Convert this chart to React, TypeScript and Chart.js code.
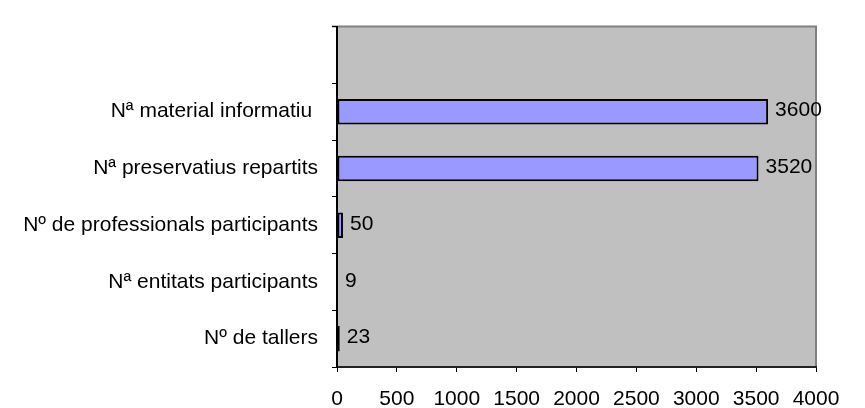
import React, { useEffect, useRef } from "react";
import { Chart, registerables } from "chart.js";

Chart.register(...registerables);

const categories = [
  "",
  "Nª material informatiu ",
  "Nª preservatius repartits",
  "Nº de professionals participants",
  "Nª entitats participants",
  "Nº de tallers",
];
const values: (number | null)[] = [null, 3600, 3520, 50, 9, 23];
const xTicks = [0, 500, 1000, 1500, 2000, 2500, 3000, 3500, 4000];

const FONT = "'Liberation Sans', Arial, sans-serif";
const FS = 21;

const plotBg = {
  id: "plotBg",
  beforeDraw(chart: any) {
    const { ctx, chartArea: a } = chart;
    ctx.save();
    ctx.fillStyle = "#c0c0c0";
    ctx.fillRect(a.left, a.top, a.right - a.left, a.bottom - a.top);
    ctx.strokeStyle = "#808080";
    ctx.lineWidth = 2;
    ctx.beginPath();
    ctx.moveTo(a.left - 5, a.top);
    ctx.lineTo(a.right, a.top);
    ctx.lineTo(a.right, a.bottom);
    ctx.stroke();
    ctx.restore();
  },
};

const valueLabels = {
  id: "valueLabels",
  afterDatasetsDraw(chart: any) {
    const { ctx } = chart;
    const meta = chart.getDatasetMeta(0);
    ctx.save();
    ctx.font = `${FS}px ${FONT}`;
    ctx.fillStyle = "#000";
    ctx.textAlign = "left";
    ctx.textBaseline = "middle";
    meta.data.forEach((bar: any, i: number) => {
      const v = values[i];
      if (v === null || v === undefined) return;
      ctx.fillText(String(v), bar.x + 7, bar.y - 1);
    });
    ctx.restore();
  },
};

export default function App() {
  const ref = useRef<HTMLCanvasElement>(null);
  useEffect(() => {
    if (!ref.current) return;
    const chart = new Chart(ref.current, {
      type: "bar",
      data: {
        labels: categories,
        datasets: [
          {
            data: values as any,
            backgroundColor: "#9999ff",
            borderColor: "#000000",
            borderWidth: 2,
            borderSkipped: false,
            categoryPercentage: 1,
            barPercentage: 0.45,
          },
        ],
      },
      options: {
        indexAxis: "y",
        animation: false,
        responsive: false,
        maintainAspectRatio: false,
        layout: { padding: { left: 0, right: 49, top: 13, bottom: 0 } },
        plugins: { legend: { display: false }, tooltip: { enabled: false } },
        scales: {
          x: {
            type: "linear",
            min: 0,
            max: 4000,
            afterBuildTicks(axis: any) {
              axis.ticks = xTicks.map((v) => ({ value: v }));
            },
            afterFit(axis: any) {
              axis.height = 41;
            },
            border: { display: true, color: "#222", width: 2 },
            grid: {
              drawOnChartArea: false,
              drawTicks: true,
              tickLength: 5,
              color: "#000",
              lineWidth: 1,
            },
            ticks: {
              color: "#000",
              font: { family: FONT, size: FS },
              padding: 15,
              maxRotation: 0,
              autoSkip: false,
              callback: (v: any) => String(v),
            },
          },
          y: {
            type: "category",
            offset: true,
            afterFit(axis: any) {
              axis.width = 337;
            },
            border: { display: true, color: "#000", width: 2 },
            grid: {
              offset: true,
              drawOnChartArea: false,
              drawTicks: true,
              tickLength: 5,
              color: "#000",
              lineWidth: 1,
            },
            ticks: {
              color: "#000",
              font: { family: FONT, size: FS },
              padding: 14,
              autoSkip: false,
            },
          },
        },
      },
      plugins: [plotBg, valueLabels],
    });
    return () => chart.destroy();
  }, []);
  return (
    <div style={{ position: "fixed", left: 0, top: 0, width: 865, height: 408, background: "#fff" }}>
      <canvas ref={ref} width={865} height={408} style={{ width: 865, height: 408 }} />
    </div>
  );
}
